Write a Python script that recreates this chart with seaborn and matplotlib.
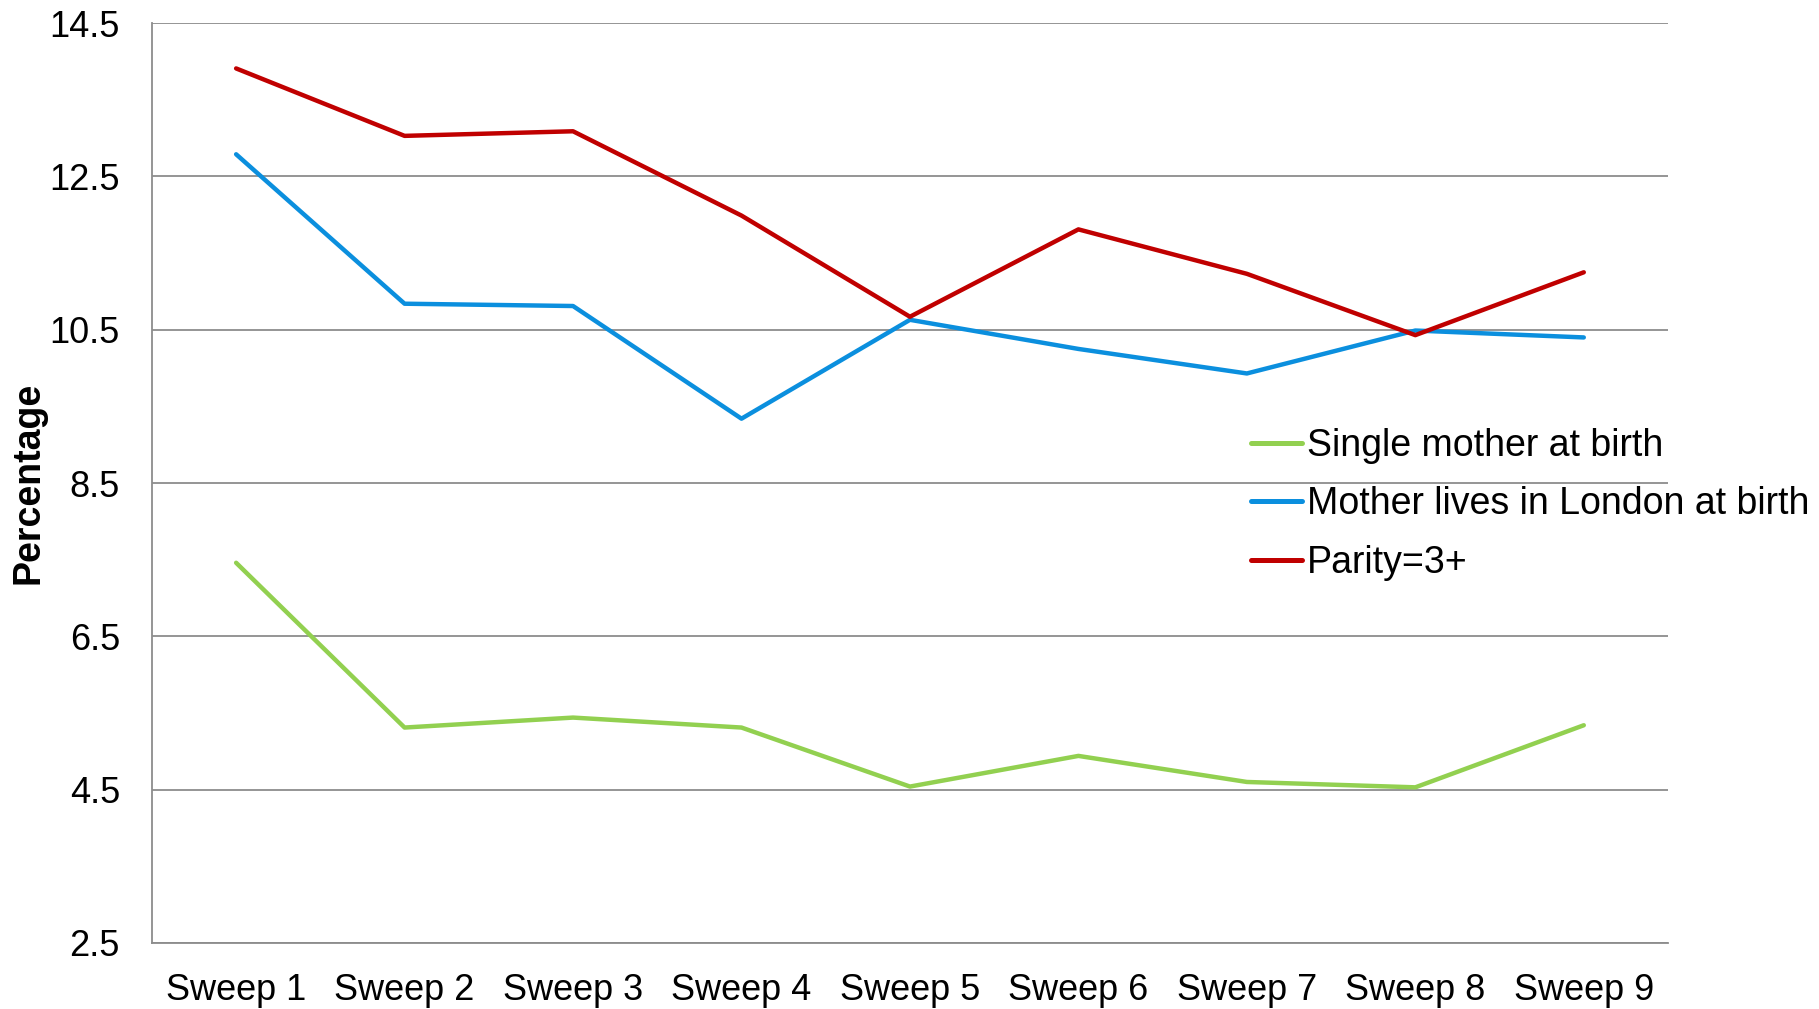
import pandas as pd
import numpy as np
import seaborn as sns
import matplotlib
matplotlib.use("Agg")
import matplotlib.pyplot as plt

# Données
sweeps = ["Sweep 1", "Sweep 2", "Sweep 3", "Sweep 4", "Sweep 5",
          "Sweep 6", "Sweep 7", "Sweep 8", "Sweep 9"]
single_mother = [7.46, 5.31, 5.44, 5.31, 4.54, 4.94, 4.60, 4.53, 5.34]
london = [12.79, 10.84, 10.81, 9.34, 10.63, 10.25, 9.93, 10.49, 10.40]
parity = [13.91, 13.03, 13.09, 11.99, 10.67, 11.81, 11.23, 10.43, 11.25]

series_names = ["Single mother at birth", "Mother lives in London at birth", "Parity=3+"]
colors = ["#92D050", "#0B8FDE", "#C00000"]
y_ticks = [2.5, 4.5, 6.5, 8.5, 10.5, 12.5, 14.5]

df = pd.DataFrame({
    "Sweep": sweeps * 3,
    "Percentage": single_mother + london + parity,
    "Serie": np.repeat(series_names, len(sweeps)),
})

sns.set_theme(style="white")
plt.rcParams["font.family"] = ["Liberation Sans", "DejaVu Sans"]
plt.rcParams["text.color"] = "black"

fig = plt.figure(figsize=(18.19, 10.09), dpi=100)
ax = fig.add_axes([0.0835, 0.0655, 0.8335, 0.9115])

sns.lineplot(data=df, x="Sweep", y="Percentage", hue="Serie",
             palette=colors, linewidth=3.2, sort=False, ax=ax)

ax.set_ylim(2.5, 14.5)
ax.set_yticks(y_ticks)
ax.set_yticklabels([f"{v:.1f}" for v in y_ticks])
ax.set_xlim(-0.5, len(sweeps) - 0.5)
ax.tick_params(axis="x", labelsize=26, labelcolor="black", length=0, pad=22)
ax.tick_params(axis="y", labelsize=26, labelcolor="black", length=0, pad=23)
ax.yaxis.grid(True, color="#8C8C8C", linewidth=1.3)
ax.set_axisbelow(True)
for s in ["top", "right"]:
    ax.spines[s].set_visible(False)
for s in ["left", "bottom"]:
    ax.spines[s].set_color("#8C8C8C")
    ax.spines[s].set_linewidth(1.3)

ax.set_xlabel("")
ax.set_ylabel("Percentage", fontsize=27, fontweight="bold", color="black")
ax.yaxis.set_label_coords(-0.0696, 0.5)

leg = ax.legend(loc="upper left", bbox_to_anchor=(0.6875, 0.576),
                bbox_transform=fig.transFigure, frameon=False, fontsize=27,
                handlelength=1.36, handletextpad=0.15, labelspacing=0.6,
                borderpad=0, borderaxespad=0)
for line in leg.get_lines():
    line.set_linewidth(3.6)

fig.savefig("out.png", dpi=100)
